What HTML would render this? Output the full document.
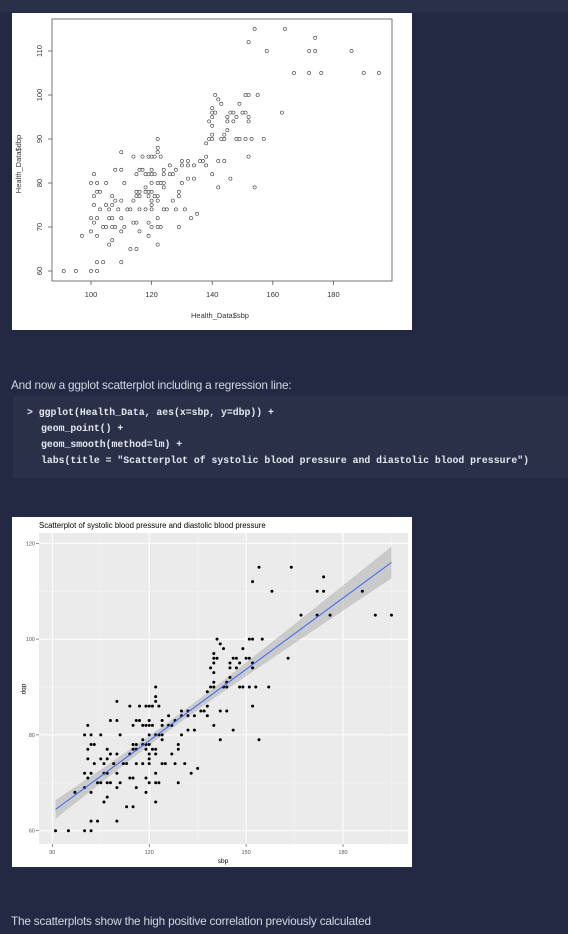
<!DOCTYPE html>
<html><head><meta charset="utf-8">
<style>
body{margin:0;width:568px;height:934px;background:#232843;position:relative;overflow:hidden;font-family:"Liberation Sans",sans-serif}
.abs{position:absolute}
.code{font-family:"Liberation Mono",monospace;font-weight:bold;font-size:9.8px;color:#e6e8f0;white-space:pre}
.txt{color:#d4d7e3;font-size:11.8px;letter-spacing:-0.2px}
</style></head><body>
<div class="abs" style="left:0;top:0;width:568px;height:12px;background:#2b3049"></div>
<svg id="base" class="abs" style="left:12px;top:13px" width="400" height="317"></svg>
<div class="abs txt" style="left:11px;top:378px">And now a ggplot scatterplot including a regression line:</div>
<div class="abs" style="left:13px;top:396px;width:555px;height:82px;background:#2b3049">
<div class="abs code" style="left:14px;top:11px">&gt; ggplot(Health_Data, aes(x=sbp, y=dbp)) +</div>
<div class="abs code" style="left:28px;top:27px">geom_point() +</div>
<div class="abs code" style="left:28px;top:43px">geom_smooth(method=lm) +</div>
<div class="abs code" style="left:28px;top:59px">labs(title = "Scatterplot of systolic blood pressure and diastolic blood pressure")</div>
</div>
<svg id="gg" class="abs" style="left:12px;top:517px" width="400" height="350"></svg>
<div class="abs txt" style="left:11px;top:914px">The scatterplots show the high positive correlation previously calculated</div>
<script>
const sbp=[91,95,100,102,102,104,110,97,100,101,102,100,102,103,101,101,102,103,100,102,105,101,104,105,105,106,106,107,106,107,107,108,107,107,108,109,108,110,110,110,110,110,111,111,112,113,113,114,114,115,115,114,115,116,117,115,115,116,116,116,116,117,118,118,118,118,119,119,119,119,119,119,120,120,120,120,120,120,120,120,120,121,121,121,122,122,122,122,122,122,122,122,122,123,123,123,124,124,124,124,124,125,126,126,127,127,128,128,129,129,129,130,130,130,131,132,132,132,133,134,134,135,136,137,138,138,138,139,139,140,140,140,140,140,140,140,141,141,142,142,142,143,143,144,144,144,145,145,145,146,146,147,147,148,148,149,149,150,151,151,152,151,152,152,152,152,153,154,154,155,157,158,163,164,167,172,172,174,174,176,186,190,195];
const dbp=[60,60,60,60,62,62,62,68,69,71,68,72,72,74,75,77,78,78,80,80,80,82,70,70,75,74,72,72,66,67,70,70,75,77,76,74,83,83,87,76,72,69,70,80,74,74,65,76,71,71,65,86,82,83,83,78,77,78,77,74,69,86,82,79,78,74,82,78,77,71,68,86,86,83,82,80,78,76,75,74,70,86,82,77,90,88,87,80,77,76,72,70,66,86,80,70,83,82,80,79,74,74,84,82,82,76,83,74,78,77,70,85,84,80,74,85,84,81,72,84,81,73,85,85,86,84,89,90,94,90,91,93,95,96,97,82,96,100,99,85,79,98,90,90,91,85,92,94,95,96,81,96,94,90,95,98,90,96,96,100,100,90,95,94,86,112,90,115,79,100,90,110,96,115,105,110,105,113,110,105,110,105,105];
const baseXTicks=[100,120,140,160,180];
const baseYTicks=[60,70,80,90,100,110];
const ggXTicks=[90,120,150,180];
const ggYTicks=[60,80,100,120];
const NS='http://www.w3.org/2000/svg';
function mk(p,t,a){const e=document.createElementNS(NS,t);for(const k in a)e.setAttribute(k,a[k]);p.appendChild(e);return e;}
const B=document.getElementById('base');
mk(B,'rect',{x:0,y:0,width:400,height:317,fill:'#fff'});
const bx=v=>79+(v-100)*3.03, by=v=>258-(v-60)*4.4;
mk(B,'rect',{x:40,y:6,width:340,height:262,fill:'none',stroke:'#555','stroke-width':0.8});
baseXTicks.forEach(t=>{const x=bx(t);
const l=mk(B,'line',{x1:x,x2:x,y1:268,y2:272,stroke:'#555','stroke-width':0.8});


const s=mk(B,'text',{x:x,y:284,'font-size':7.5,'text-anchor':'middle',fill:'#333'});s.textContent=t;

});
baseYTicks.forEach(t=>{const y=by(t);
mk(B,'line',{x1:36,x2:40,y1:y,y2:y,stroke:'#555','stroke-width':0.8});
const s=mk(B,'text',{x:0,y:0,'font-size':7.5,'text-anchor':'middle',fill:'#333',transform:`translate(30,${y}) rotate(-90)`});s.textContent=t;

});
let t1=mk(B,'text',{x:208,y:305,'font-size':7.5,'text-anchor':'middle',fill:'#333'});t1.textContent='Health_Data$sbp';


let t2=mk(B,'text',{x:0,y:0,'font-size':7.5,'text-anchor':'middle',fill:'#333',transform:'translate(9,151) rotate(-90)'});t2.textContent='Health_Data$dbp';


sbp.forEach((v,i)=>{const c=mk(B,'circle',{cx:bx(v),cy:by(dbp[i]),r:1.6,fill:'none',stroke:'#333','stroke-width':0.6});

});
const G=document.getElementById('gg');
mk(G,'rect',{x:0,y:0,width:400,height:350,fill:'#fff'});
const gx=v=>40.3+(v-90)*3.23, gy=v=>313.7-(v-60)*4.79;
mk(G,'rect',{x:27,y:16,width:369,height:311,fill:'#ebebeb'});
[105,135,165,195].forEach(t=>mk(G,'line',{x1:gx(t),x2:gx(t),y1:16,y2:327,stroke:'#f6f6f6','stroke-width':0.5}));
[70,90,110].forEach(t=>mk(G,'line',{x1:27,x2:396,y1:gy(t),y2:gy(t),stroke:'#f6f6f6','stroke-width':0.5}));
ggXTicks.forEach(t=>{const x=gx(t);mk(G,'line',{x1:x,x2:x,y1:16,y2:327,stroke:'#fff','stroke-width':1});
mk(G,'line',{x1:x,x2:x,y1:327,y2:330,stroke:'#444','stroke-width':0.6});
const s=mk(G,'text',{x:x,y:337,'font-size':5.5,'text-anchor':'middle',fill:'#555'});s.textContent=t;

});
ggYTicks.forEach(t=>{const y=gy(t);mk(G,'line',{x1:27,x2:396,y1:y,y2:y,stroke:'#fff','stroke-width':1});
mk(G,'line',{x1:24,x2:27,y1:y,y2:y,stroke:'#444','stroke-width':0.6});
const s=mk(G,'text',{x:23,y:y+2,'font-size':5.5,'text-anchor':'end',fill:'#555'});s.textContent=t;

});
const n=sbp.length,mx=sbp.reduce((a,b)=>a+b)/n,my=dbp.reduce((a,b)=>a+b)/n;
let sxx=0,sxy=0;sbp.forEach((v,i)=>{sxx+=(v-mx)**2;sxy+=(v-mx)*(dbp[i]-my);});
const b1=sxy/sxx,b0=my-b1*mx;let sse=0;sbp.forEach((v,i)=>{sse+=(dbp[i]-b0-b1*v)**2;});
const sig=Math.sqrt(sse/(n-2));
const xmin=Math.min(...sbp),xmax=Math.max(...sbp);
let up=[],lo=[];for(let k=0;k<=40;k++){const x=xmin+(xmax-xmin)*k/40,f=b0+b1*x,se=1.97*sig*Math.sqrt(1/n+(x-mx)**2/sxx);up.push(gx(x)+','+gy(f+se));lo.unshift(gx(x)+','+gy(f-se));}
const band=mk(G,'polygon',{points:up.concat(lo).join(' '),fill:'#999','fill-opacity':0.4});


sbp.forEach((v,i)=>{const c=mk(G,'circle',{cx:gx(v),cy:gy(dbp[i]),r:1.5,fill:'#000'});

});
const rl=mk(G,'line',{x1:gx(xmin),y1:gy(b0+b1*xmin),x2:gx(xmax),y2:gy(b0+b1*xmax),stroke:'#3366ff','stroke-width':1});


let g1=mk(G,'text',{x:27,y:11,'font-size':7.8,fill:'#000'});g1.textContent='Scatterplot of systolic blood pressure and diastolic blood pressure';


let g2=mk(G,'text',{x:211,y:346,'font-size':6.5,'text-anchor':'middle',fill:'#000'});g2.textContent='sbp';


let g3=mk(G,'text',{x:0,y:0,'font-size':6.5,'text-anchor':'middle',fill:'#000',transform:'translate(10,172) rotate(90)'});g3.textContent='dbp';


</script>
</body></html>
